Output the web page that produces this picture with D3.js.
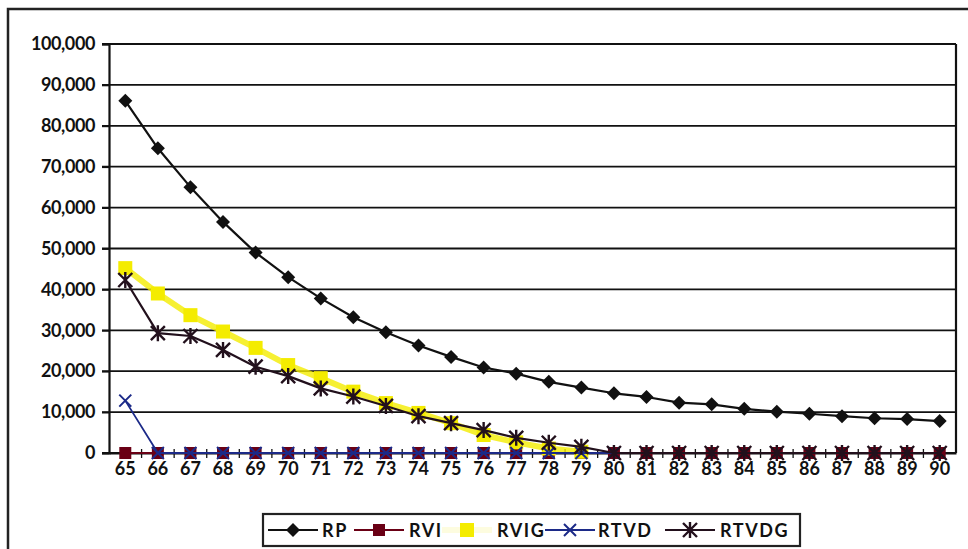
<!DOCTYPE html>
<meta charset="utf-8">
<script src="https://d3js.org/d3.v7.min.js"></script>
<style>
  body { margin: 0; background: #fff; }
  svg text { font-family: "Lato", "DejaVu Sans", sans-serif; fill: #111; font-weight: bold; }
</style>
<body>
<svg id="chart" width="968" height="549"></svg>
<script>
  // data (age 65..90)
  var ages = d3.range(65, 91).map(String);
  var rp    = [86100, 74500, 65000, 56500, 49000, 43000, 37800, 33200, 29500, 26300, 23500, 20900, 19400, 17400, 16000, 14600, 13700, 12300, 11900, 10800, 10100, 9600, 9000, 8500, 8300, 7800];
  var rvi   = [0, 0, 0, 0, 0, 0, 0, 0, 0, 0, 0, 0, 0, 0, 0, 0, 0, 0, 0, 0, 0, 0, 0, 0, 0, 0];
  var rvig  = [45200, 39000, 33700, 29700, 25700, 21500, 18300, 15000, 12200, 9800, 7300, 4400, 2600, 1100, 300, null, null, null, null, null, null, null, null, null, null, null];
  var rtvd  = [12800, 0, 0, 0, 0, 0, 0, 0, 0, 0, 0, 0, 0, 0, 0, 0, null, null, null, null, null, null, null, null, null, null];
  var rtvdg = [42300, 29300, 28600, 25200, 21100, 18800, 15800, 13800, 11500, 9000, 7300, 5600, 3700, 2500, 1500, 0, 0, 0, 0, 0, 0, 0, 0, 0, 0, 0];
  var yTicks = d3.range(0, 100001, 10000);

  var series = [
    {name: "RP",    values: rp,    color: "#111111", width: 2.2, marker: "diamond", size: 7},
    {name: "RVI",   values: rvi,   color: "#6a0015", width: 2.2, marker: "square",  size: 6},
    {name: "RVIG",  values: rvig,  color: "#f4ec00", width: 6,   marker: "square",  size: 7},
    {name: "RTVD",  values: rtvd,  color: "#1c2a88", width: 1.8, marker: "x",  size: 6},
    {name: "RTVDG", values: rtvdg, color: "#22101c", width: 2.2, marker: "star", size: 7}
  ];

  var svg = d3.select("#chart");

  // outer chart frame (runs off the right/bottom edge like in the scan)
  svg.append("path")
      .attr("d", "M8,560 L8,9 L975,9")
      .attr("fill", "none").attr("stroke", "#222").attr("stroke-width", 2.5);

  var x = d3.scaleBand().domain(ages).range([109, 956]);
  var y = d3.scaleLinear().domain([0, 100000]).range([453, 44]);

  // gridlines
  svg.append("g").selectAll("line")
      .data(yTicks).enter().append("line")
      .attr("x1", 102).attr("x2", 956)
      .attr("y1", d => y(d)).attr("y2", d => y(d))
      .attr("stroke", "#111").attr("stroke-width", 1.8);

  // right border of plot area
  svg.append("line")
      .attr("x1", 956).attr("x2", 956).attr("y1", y(100000)).attr("y2", y(0))
      .attr("stroke", "#111").attr("stroke-width", 2.2);

  // y axis
  var yAxis = svg.append("g").attr("transform", "translate(109,0)")
      .call(d3.axisLeft(y).tickValues(yTicks).tickFormat(d3.format(",")).tickSize(7).tickPadding(7));
  yAxis.select(".domain").attr("stroke", "#111").attr("stroke-width", 2.2);
  yAxis.selectAll(".tick line").attr("stroke", "#111").attr("stroke-width", 1.8);
  yAxis.selectAll("text").style("font-size", "18px").attr("fill", "#111").attr("letter-spacing", "-0.4px");

  // x axis
  var xAxis = svg.append("g").attr("transform", "translate(0,453)")
      .call(d3.axisBottom(x).tickSize(0).tickPadding(9));
  xAxis.select(".domain").attr("stroke", "#111").attr("stroke-width", 1.8);
  xAxis.selectAll("text").style("font-size", "18px").attr("fill", "#111").attr("letter-spacing", "0px");
  svg.append("g").selectAll("line")
      .data(ages.slice(1)).enter().append("line")
      .attr("x1", d => x(d)).attr("x2", d => x(d))
      .attr("y1", 449).attr("y2", 458)
      .attr("stroke", "#111").attr("stroke-width", 1.3);

  function drawMarker(g, s, cx, cy) {
    var r = s.size;
    if (s.marker === "x") {
      g.append("path")
        .attr("d", `M${cx-r},${cy-r}L${cx+r},${cy+r}M${cx-r},${cy+r}L${cx+r},${cy-r}`)
        .attr("stroke", s.color).attr("stroke-width", 2).attr("fill", "none");
    } else if (s.marker === "star") {
      g.append("path")
        .attr("d", `M${cx-r},${cy-r}L${cx+r},${cy+r}M${cx-r},${cy+r}L${cx+r},${cy-r}M${cx},${cy-r-1}L${cx},${cy+r+1}`)
        .attr("stroke", s.color).attr("stroke-width", 2.4).attr("fill", "none");
    } else if (s.marker === "diamond") {
      g.append("path")
        .attr("d", `M${cx},${cy-r}L${cx+r},${cy}L${cx},${cy+r}L${cx-r},${cy}Z`)
        .attr("fill", s.color);
    } else {
      g.append("rect")
        .attr("x", cx - r).attr("y", cy - r).attr("width", 2 * r).attr("height", 2 * r)
        .attr("fill", s.color);
    }
  }

  var line = d3.line()
      .defined(d => d.v !== null)
      .x(d => x(d.age) + x.bandwidth() / 2)
      .y(d => y(d.v));

  series.forEach(function(s) {
    var pts = ages.map((a, i) => ({age: a, v: s.values[i]}));
    var g = svg.append("g");
    g.append("path")
      .datum(pts)
      .attr("d", line)
      .attr("fill", "none")
      .attr("stroke", s.color)
      .attr("stroke-width", s.width)
      .attr("stroke-linejoin", "round")
      .attr("opacity", s.name === "RVIG" ? 0.8 : 1);
    pts.filter(d => d.v !== null).forEach(function(d) {
      drawMarker(g, s, x(d.age) + x.bandwidth() / 2, y(d.v));
    });
  });

  // legend
  var legend = svg.append("g");
  legend.append("rect")
      .attr("x", 263).attr("y", 514).attr("width", 537).attr("height", 32)
      .attr("fill", "#fff").attr("stroke", "#222").attr("stroke-width", 2.2);
  var legendX = [268, 354, 440, 545, 665];
  var textX = [322, 409, 497, 598, 720];
  series.forEach(function(s, i) {
    var g = legend.append("g");
    if (s.name !== "RVIG") {
      g.append("line")
        .attr("x1", legendX[i]).attr("x2", legendX[i] + 50)
        .attr("y1", 530).attr("y2", 530)
        .attr("stroke", s.color).attr("stroke-width", 2.2);
    } else {
      g.append("line")
        .attr("x1", legendX[i] + 2).attr("x2", legendX[i] + 52)
        .attr("y1", 530).attr("y2", 530)
        .attr("stroke", s.color).attr("stroke-width", 6).attr("opacity", 0.12);
    }
    drawMarker(g, s, legendX[i] + 25 + (s.name === "RVIG" ? 2 : 0), 530);
    g.append("text")
      .attr("x", textX[i]).attr("y", 537)
      .style("font-size", "18px")
      .attr("letter-spacing", "1.6px")
      .text(s.name);
  });
</script>
</body>
